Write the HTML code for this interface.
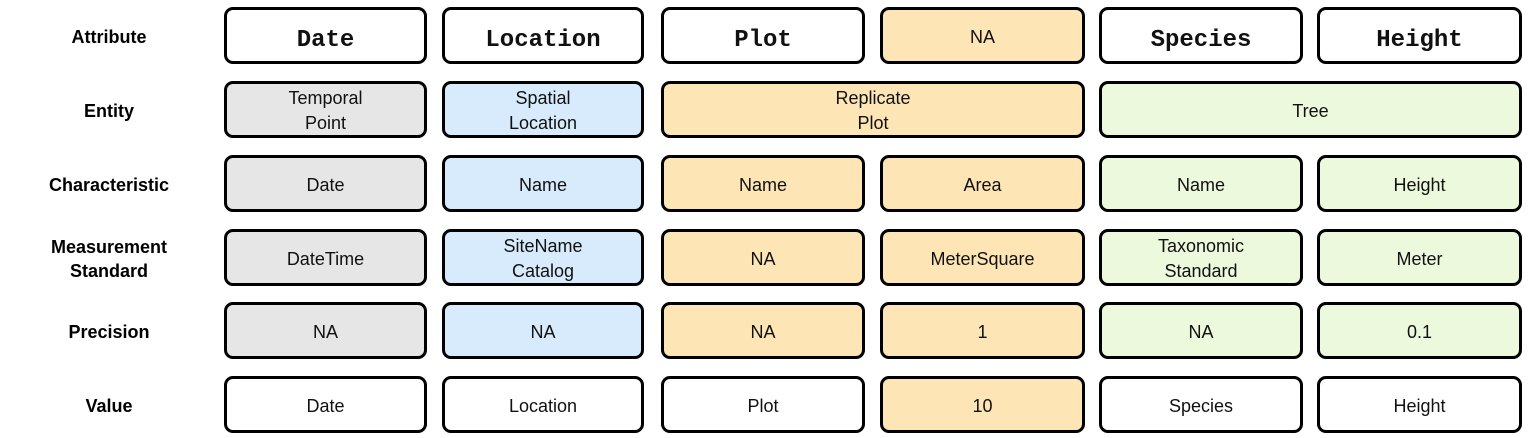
<!DOCTYPE html>
<html><head><meta charset="utf-8"><style>
body{margin:0;width:1530px;height:438px;background:#fff;position:relative;font-family:"Liberation Sans",sans-serif;overflow:hidden}
.b{position:absolute;box-sizing:border-box;border:3px solid #000;border-radius:9px;display:flex;align-items:center;justify-content:center;text-align:center;font-size:18px;line-height:25px;color:#111;height:57px;padding-top:3px}
.m{font-family:"Liberation Mono",monospace;font-weight:bold;font-size:24px;padding-top:9px}
.l{position:absolute;left:0;width:218px;text-align:center;font-weight:bold;font-size:18px;line-height:24px;display:flex;align-items:center;justify-content:center;height:57px;padding-top:3px;box-sizing:border-box}
.g{background:#e6e6e6}.bl{background:#d7ebfc}.o{background:#fde5b5}.gr{background:#ecf9dc}
</style></head><body>
<div class="l" style="top:7px">Attribute</div>
<div class="l" style="top:81px">Entity</div>
<div class="l" style="top:155px">Characteristic</div>
<div class="l" style="top:229px">Measurement<br>Standard</div>
<div class="l" style="top:302px">Precision</div>
<div class="l" style="top:376px">Value</div>

<div class="b m" style="left:224px;top:7px;width:203px">Date</div>
<div class="b m" style="left:442px;top:7px;width:202px">Location</div>
<div class="b m" style="left:661px;top:7px;width:204px">Plot</div>
<div class="b o" style="left:880px;top:7px;width:205px">NA</div>
<div class="b m" style="left:1099px;top:7px;width:204px">Species</div>
<div class="b m" style="left:1317px;top:7px;width:205px">Height</div>

<div class="b g" style="left:224px;top:81px;width:203px">Temporal<br>Point</div>
<div class="b bl" style="left:442px;top:81px;width:202px">Spatial<br>Location</div>
<div class="b o" style="left:661px;top:81px;width:424px">Replicate<br>Plot</div>
<div class="b gr" style="left:1099px;top:81px;width:423px">Tree</div>

<div class="b g" style="left:224px;top:155px;width:203px">Date</div>
<div class="b bl" style="left:442px;top:155px;width:202px">Name</div>
<div class="b o" style="left:661px;top:155px;width:204px">Name</div>
<div class="b o" style="left:880px;top:155px;width:205px">Area</div>
<div class="b gr" style="left:1099px;top:155px;width:204px">Name</div>
<div class="b gr" style="left:1317px;top:155px;width:205px">Height</div>

<div class="b g" style="left:224px;top:229px;width:203px">DateTime</div>
<div class="b bl" style="left:442px;top:229px;width:202px">SiteName<br>Catalog</div>
<div class="b o" style="left:661px;top:229px;width:204px">NA</div>
<div class="b o" style="left:880px;top:229px;width:205px">MeterSquare</div>
<div class="b gr" style="left:1099px;top:229px;width:204px">Taxonomic<br>Standard</div>
<div class="b gr" style="left:1317px;top:229px;width:205px">Meter</div>

<div class="b g" style="left:224px;top:302px;width:203px">NA</div>
<div class="b bl" style="left:442px;top:302px;width:202px">NA</div>
<div class="b o" style="left:661px;top:302px;width:204px">NA</div>
<div class="b o" style="left:880px;top:302px;width:205px">1</div>
<div class="b gr" style="left:1099px;top:302px;width:204px">NA</div>
<div class="b gr" style="left:1317px;top:302px;width:205px">0.1</div>

<div class="b" style="left:224px;top:376px;width:203px">Date</div>
<div class="b" style="left:442px;top:376px;width:202px">Location</div>
<div class="b" style="left:661px;top:376px;width:204px">Plot</div>
<div class="b o" style="left:880px;top:376px;width:205px">10</div>
<div class="b" style="left:1099px;top:376px;width:204px">Species</div>
<div class="b" style="left:1317px;top:376px;width:205px">Height</div>
</body></html>
